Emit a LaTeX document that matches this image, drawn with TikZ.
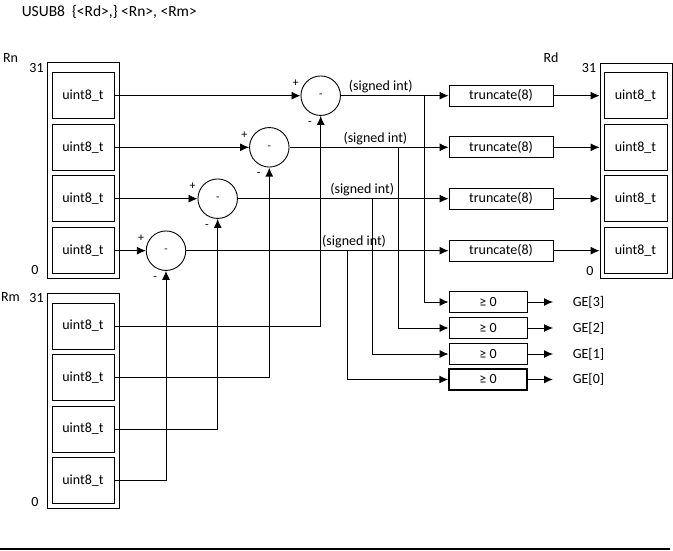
\documentclass[tikz,border=0pt]{standalone}
\usepackage{fontspec}
\setmainfont{Carlito}
\usetikzlibrary{arrows.meta}
\newcommand{\flowarrow}{-{Latex[length=9pt,width=8pt]}}
\tikzset{
  outbox/.style={draw, minimum width=72pt, inner sep=0pt},
  regbox/.style={draw, minimum width=62pt, minimum height=46pt, inner sep=0pt},
  subc/.style={draw, circle, minimum size=39.5pt, inner sep=0pt, font=\fontsize{11}{13}\selectfont},
  truncbox/.style={draw, minimum width=104pt, minimum height=21pt, inner sep=0pt},
  gebox/.style={draw, minimum width=78pt, minimum height=21pt, inner sep=0pt},
  pm/.style={font=\fontsize{12}{14}\selectfont, inner sep=0pt},
}

\begin{document}
\begin{tikzpicture}[x=1pt, y=-1pt, line width=0.9pt, font=\fontsize{14}{16}\selectfont]
\useasboundingbox (0,0) rectangle (673,551);
\node[anchor=west, font=\fontsize{15.5}{18}\selectfont] (title) at (18,12) {USUB8\ \ \{<Rd>,\} <Rn>, <Rm>};

% Rn
\node (rnname) at (10.5,58) {Rn};
\node (rnhi) at (36.5,68) {31};
\node (rnlo) at (35,270) {0};
\node[outbox, minimum height=216pt] (rn) at (83.3,170) {};
\node[regbox] (rnA) at (83,95.7) {uint8\_t};
\node[regbox] (rnB) at (83,147.3) {uint8\_t};
\node[regbox] (rnC) at (83,198.7) {uint8\_t};
\node[regbox] (rnD) at (83,250.7) {uint8\_t};

% Rm
\node (rmname) at (10.5,297) {Rm};
\node (rmhi) at (36.5,298) {31};
\node (rmlo) at (35,502) {0};
\node[outbox, minimum height=215pt] (rm) at (83.6,400.7) {};
\node[regbox] (rmA) at (83,326) {uint8\_t};
\node[regbox] (rmB) at (83,377.5) {uint8\_t};
\node[regbox] (rmC) at (83,429) {uint8\_t};
\node[regbox] (rmD) at (83,480.5) {uint8\_t};

% Rd
\node (rdname) at (551,58) {Rd};
\node (rdhi) at (589,68) {31};
\node (rdlo) at (590,271) {0};
\node[outbox, minimum height=215pt] (rd) at (636,170.5) {};
\node[regbox, minimum width=63pt] (rdA) at (635.5,95.7) {uint8\_t};
\node[regbox, minimum width=63pt] (rdB) at (635.5,147.3) {uint8\_t};
\node[regbox, minimum width=63pt] (rdC) at (635.5,198.7) {uint8\_t};
\node[regbox, minimum width=63pt] (rdD) at (635.5,250.7) {uint8\_t};

% subtractors
\node[subc] (c1) at (320.7,95.7) {-};
\node[subc] (c2) at (269.3,147.3) {-};
\node[subc] (c3) at (217.7,198.7) {-};
\node[subc] (c4) at (166,250.7) {-};
\node[pm] (p1) at ([shift={(-25,-12.5)}]c1.center) {+};
\node[pm] (p2) at ([shift={(-25,-12.5)}]c2.center) {+};
\node[pm] (p3) at ([shift={(-25,-12.5)}]c3.center) {+};
\node[pm] (p4) at ([shift={(-25,-12.5)}]c4.center) {+};
\node[pm] (m1) at ([shift={(-10.7,27.6)}]c1.center) {-};
\node[pm] (m2) at ([shift={(-10.7,27.6)}]c2.center) {-};
\node[pm] (m3) at ([shift={(-10.7,27.6)}]c3.center) {-};
\node[pm] (m4) at ([shift={(-10.7,27.6)}]c4.center) {-};

% truncate and flags
\node[truncbox] (t1) at (501,95.7) {truncate(8)};
\node[truncbox] (t2) at (501,147.3) {truncate(8)};
\node[truncbox] (t3) at (501,198.7) {truncate(8)};
\node[truncbox] (t4) at (501,250.7) {truncate(8)};
\node[gebox] (g1) at (488,302) {≥ 0};
\node[gebox] (g2) at (488,328) {≥ 0};
\node[gebox] (g3) at (488,354) {≥ 0};
\node[gebox, line width=1.4pt] (g4) at (488,379.5) {≥ 0};
\node[anchor=west] (ge3) at (569,302) {GE[3]};
\node[anchor=west] (ge2) at (569,328) {GE[2]};
\node[anchor=west] (ge1) at (569,354) {GE[1]};
\node[anchor=west] (ge0) at (569,379.5) {GE[0]};
\coordinate (o1) at (553,302);
\coordinate (o2) at (553,328);
\coordinate (o3) at (553,354);
\coordinate (o4) at (553,379.5);
\coordinate (k1) at (424,95.7);
\coordinate (k2) at (398.5,147.3);
\coordinate (k3) at (372.5,198.7);
\coordinate (k4) at (347.5,250.7);

\draw[\flowarrow] (rnA) -- (c1);
\draw[\flowarrow] (rnB) -- (c2);
\draw[\flowarrow] (rnC) -- (c3);
\draw[\flowarrow] (rnD) -- (c4);
\draw[\flowarrow] (rmA.east) -| (c1.south);
\draw[\flowarrow, line width=1.4pt] (rmB.east) -| (c2.south);
\draw[\flowarrow] (rmC.east) -| (c3.south);
\draw[\flowarrow] (rmD.east) -| (c4.south);
\draw[\flowarrow] (c1) -- node[above, inner sep=2pt, pos=0.37]{(signed int)} (t1);
\draw[\flowarrow] (c2) -- node[above, inner sep=2pt, pos=0.54]{(signed int)} (t2);
\draw[\flowarrow] (c3) -- node[above, inner sep=2pt, pos=0.59]{(signed int)} (t3);
\draw[\flowarrow] (c4) -- node[above, inner sep=2pt, pos=0.64]{(signed int)} (t4);
\draw[\flowarrow] (t1) -- (t1.east -| rd.west);
\draw[\flowarrow] (t2) -- (t2.east -| rd.west);
\draw[\flowarrow] (t3) -- (t3.east -| rd.west);
\draw[\flowarrow] (t4) -- (t4.east -| rd.west);
\draw[\flowarrow] (k1) |- (g1);
\draw[\flowarrow] (k2) |- (g2);
\draw[\flowarrow] (k3) |- (g3);
\draw[\flowarrow, line width=1.4pt] (k4) |- (g4);
\draw[\flowarrow] (g1) -- (o1);
\draw[\flowarrow] (g2) -- (o2);
\draw[\flowarrow] (g3) -- (o3);
\draw[\flowarrow, line width=1.4pt] (g4) -- (o4);

\coordinate (ruleL) at (0,549);
\coordinate (ruleR) at (670,549);
\draw[line width=2pt] (ruleL) -- (ruleR);
\end{tikzpicture}
\end{document}
